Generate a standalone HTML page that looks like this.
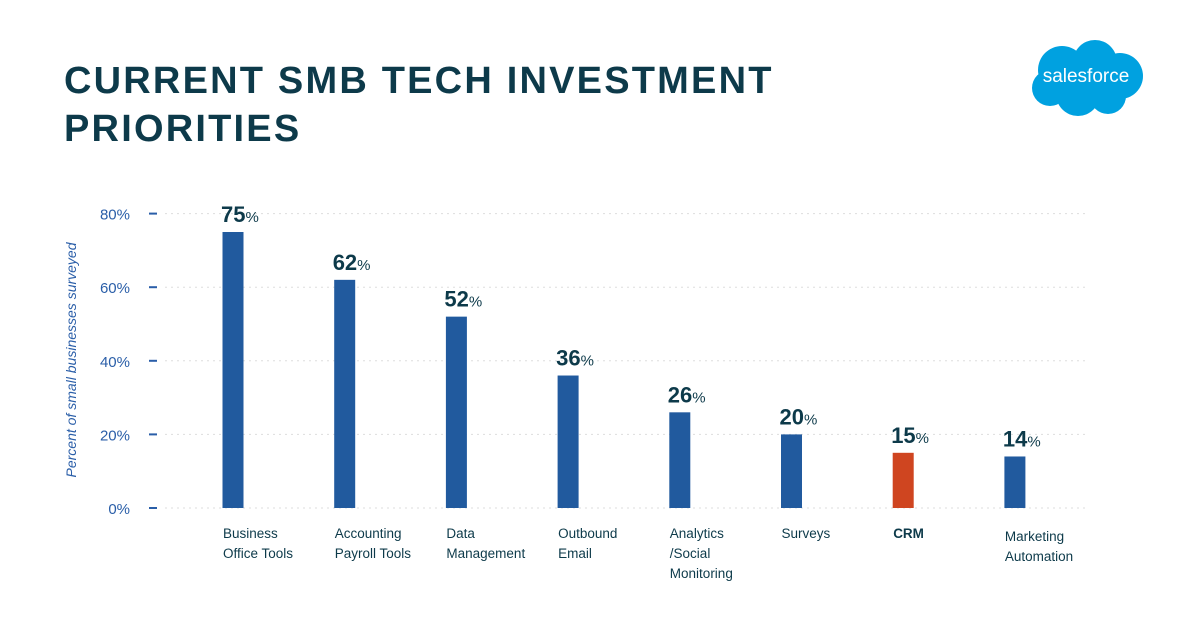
<!DOCTYPE html>
<html><head><meta charset="utf-8"><style>
body{margin:0;width:1200px;height:627px;background:#fff;overflow:hidden;font-family:"Liberation Sans",sans-serif;position:relative}
.title{position:absolute;left:64px;top:57px;font-weight:900;font-size:38px;letter-spacing:2.2px;color:#0d3a4a;line-height:48px;transform:scaleX(1.0);transform-origin:left}
svg{position:absolute;left:0;top:0}
</style></head><body>
<div class="title">CURRENT SMB TECH INVESTMENT<br>PRIORITIES</div>
<svg width="1200" height="627" id="c">
<g>
<g fill="#00a1e0">
<circle cx="1062" cy="70" r="24"/><circle cx="1095" cy="62" r="22"/><circle cx="1120" cy="76" r="23"/><circle cx="1078" cy="94" r="22"/><circle cx="1108" cy="96" r="18"/><circle cx="1050" cy="88" r="18"/>
</g>
<text x="1086" y="82" text-anchor="middle" fill="#fff" font-size="19" font-family="Liberation Sans, sans-serif">salesforce</text>
</g>
<text transform="translate(76,360) rotate(-90)" text-anchor="middle" font-size="14" font-style="italic" fill="#2a5ea8">Percent of small businesses surveyed</text>
</svg>
<script>
const categories=[["Business","Office Tools"],["Accounting","Payroll Tools"],["Data","Management"],["Outbound","Email"],["Analytics","/Social","Monitoring"],["Surveys"],["CRM"],["Marketing","Automation"]];
const values=[75,62,52,36,26,20,15,14];
const highlight=[false,false,false,false,false,false,true,false];
const ticks=[0,20,40,60,80];
const svg=document.getElementById('c');const NS='http://www.w3.org/2000/svg';
const y=v=>508-v*3.68;const x=i=>233+i*111.7;
function mk(t,a,p){const e=document.createElementNS(NS,t);for(const k in a)e.setAttribute(k,a[k]);(p||svg).appendChild(e);return e;}
ticks.forEach(t=>{
 const g=mk('line',{x1:165,x2:1088,y1:y(t),y2:y(t),stroke:'#ddd','stroke-dasharray':'2 4'});
 
 
 const m=mk('line',{x1:149,x2:157,y1:y(t),y2:y(t),stroke:'#2a5ea8','stroke-width':2});
 
 
 const l=mk('text',{x:130,y:y(t)+6,'text-anchor':'end','font-size':15,fill:'#2a5ea8'});l.textContent=t+'%';
 
 
});
values.forEach((v,i)=>{
 const b=mk('rect',{x:x(i)-10.5,y:y(v),width:21,height:508-y(v),fill:highlight[i]?'#cf4520':'#215a9e'});
 
 
 const t=mk('text',{x:x(i)-12,y:y(v)-10,'font-size':22,'font-weight':'bold',fill:'#0d3a4a'});
 
 
 t.textContent=v;const s=mk('tspan',{'font-size':15,'font-weight':'normal'},t);s.textContent='%';
 const c=mk('text',{x:x(i)-10,y:i===7?541:538,'font-size':13.5,fill:'#0d3a4a','font-weight':highlight[i]?'bold':'normal'});
 
 
 categories[i].forEach((ln,j)=>{const sp=mk('tspan',{x:x(i)-10,dy:j?20:0},c);sp.textContent=ln;});
});
</script>
</body></html>
